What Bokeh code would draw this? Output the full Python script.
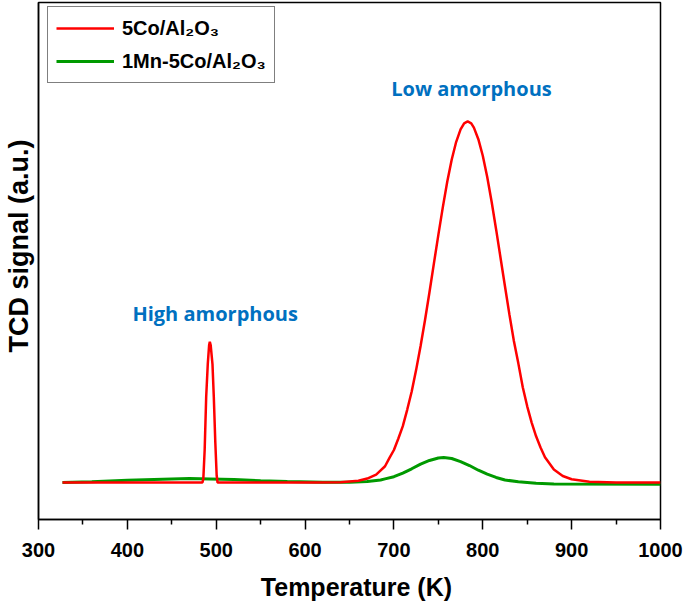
from bokeh.plotting import figure
from bokeh.models import Range1d, FixedTicker, Label
from bokeh.embed import file_html
from bokeh.resources import INLINE

# ---- data ----
red_T = [327, 360, 400, 440, 470, 484.5, 485.5, 487, 488.7, 490.5, 492, 492.8, 493.8,
         495.8, 497.3, 499, 500.5, 501.5, 530, 570, 610, 640, 660, 670, 680, 690, 695,
         700, 705, 710, 715, 720, 725, 730, 735, 740, 745, 750, 755, 760, 765, 770, 775,
         779, 783, 787, 790, 795, 800, 805, 810, 815, 820, 825, 830, 835, 840, 845, 850, 855,
         860, 865, 870, 880, 890, 900, 920, 950, 1000]
red_S = [0, 0, 0, 0, 0, 0, 0.01, 0.09, 0.236, 0.328, 0.38, 0.39, 0.38,
         0.328, 0.236, 0.11, 0.02, 0, 0, 0, 0, 0.001, 0.005, 0.011, 0.022, 0.045, 0.068,
         0.09, 0.122, 0.156, 0.202, 0.252, 0.312, 0.378, 0.45, 0.527, 0.607, 0.686, 0.762,
         0.833, 0.894, 0.943, 0.978, 0.995, 1.0, 0.995, 0.983, 0.951, 0.905, 0.846, 0.777,
         0.701, 0.622, 0.543, 0.465, 0.392, 0.33, 0.264, 0.211, 0.166,
         0.128, 0.097, 0.07, 0.036, 0.018, 0.009, 0.002, 0, 0]

green_T = [327, 360, 400, 440, 470, 493, 520, 550, 580, 620, 650, 670, 685, 690, 700, 710,
           720, 730, 740, 750, 756, 765, 775, 785, 795, 805, 815, 825, 840, 860, 880, 1000]
green_S = [0.0, 0.002, 0.006, 0.009, 0.011, 0.010, 0.008, 0.005, 0.003, 0.001, 0.001, 0.003,
           0.007, 0.010, 0.016, 0.026, 0.038, 0.051, 0.061, 0.068, 0.069, 0.0665, 0.058, 0.047,
           0.034, 0.023, 0.014, 0.007, 0.002, -0.002, -0.004, -0.005]

x_major = [300, 400, 500, 600, 700, 800, 900, 1000]
x_minor = [350, 450, 550, 650, 750, 850, 950]

FONT = "Liberation Sans"
NBSP = "\u00a0"

p = figure(width=685, height=604, output_backend="svg", toolbar_location=None,
           x_range=Range1d(300, 1000), y_range=Range1d(-0.1025, 1.3296),
           min_border_left=38, min_border_right=25, min_border_top=2, min_border_bottom=85)

p.xgrid.visible = False
p.ygrid.visible = False
p.outline_line_color = "black"
p.outline_line_width = 1.5
p.background_fill_color = "white"
p.border_fill_color = "white"

p.line(green_T, green_S, line_color="#009A00", line_width=3, legend_label="1Mn-5Co/Al₂O₃")
p.line(red_T, red_S, line_color="#FF0000", line_width=2.5, legend_label="5Co/Al₂O₃")

# x axis
xa = p.xaxis[0]
xa.ticker = FixedTicker(ticks=x_major, minor_ticks=x_minor)
xa.axis_line_color = "black"
xa.axis_line_width = 1.5
xa.major_tick_line_width = 1.5
xa.minor_tick_line_width = 1.5
xa.major_tick_in = 0
xa.major_tick_out = 10
xa.minor_tick_in = 0
xa.minor_tick_out = 5
xa.major_label_text_font = FONT
xa.major_label_text_font_style = "bold"
xa.major_label_text_font_size = "20px"
xa.major_label_text_color = "black"
xa.major_label_standoff = 13
xa.axis_label = NBSP * 2 + "Temperature (K)"
xa.axis_label_text_font = FONT
xa.axis_label_text_font_style = "bold"
xa.axis_label_text_font_size = "25px"
xa.axis_label_text_color = "black"
xa.axis_label_standoff = 13

# y axis
ya = p.yaxis[0]
ya.ticker = FixedTicker(ticks=[])
ya.major_label_text_font_size = "0px"
ya.major_tick_out = 0
ya.major_tick_in = 0
ya.minor_tick_out = 0
ya.minor_tick_in = 0
ya.axis_line_color = "black"
ya.axis_line_width = 1.5
ya.axis_label = NBSP * 4 + "TCD signal (a.u.)"
ya.axis_label_text_font = FONT
ya.axis_label_text_font_style = "bold"
ya.axis_label_text_font_size = "27px"
ya.axis_label_text_color = "black"
ya.axis_label_standoff = 5

# legend
lg = p.legend[0]
items = list(lg.items)
lg.items = [items[1], items[0]]
lg.location = (9, 436)
lg.margin = 0
lg.padding = 8
lg.spacing = 7
lg.glyph_width = 58
lg.glyph_height = 26
lg.label_height = 26
lg.label_standoff = 8
lg.label_text_font = FONT
lg.label_text_font_style = "bold"
lg.label_text_font_size = "20px"
lg.label_text_color = "black"
lg.border_line_color = "black"
lg.border_line_width = 1.5
lg.background_fill_alpha = 1.0

for txt, xx, yy in [("High amorphous", 498.8, 0.468), ("Low amorphous", 787.3, 1.091)]:
    p.add_layout(Label(x=xx, y=yy, text=txt, text_align="center", text_baseline="middle",
                       text_font="Open Sans", text_font_style="bold", text_font_size="20px",
                       text_color="#0070C0"))

open("out.html", "w").write(file_html(p, INLINE))
